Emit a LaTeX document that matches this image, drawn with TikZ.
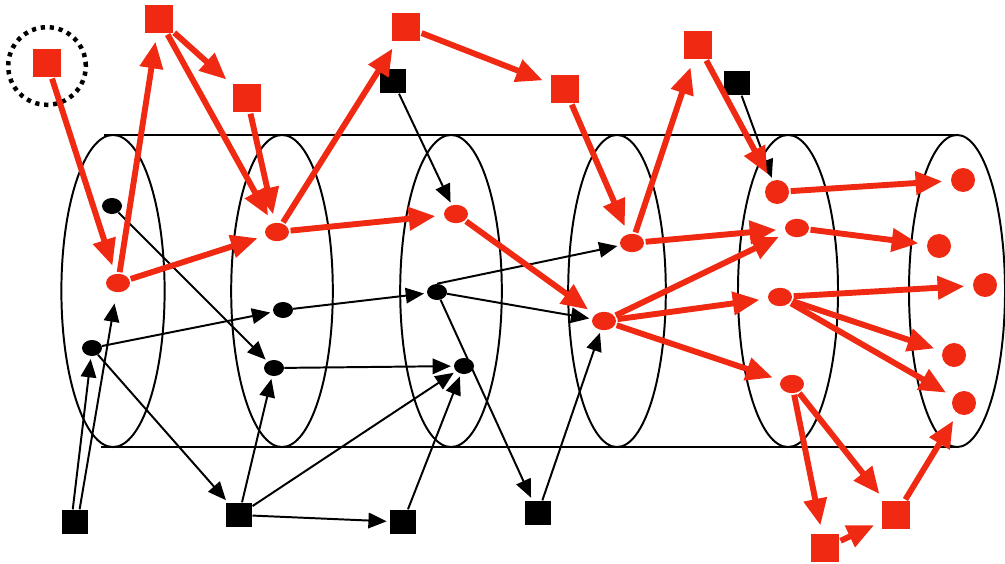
\documentclass[tikz,border=0pt]{standalone}
\usepackage{tikz}
\usetikzlibrary{arrows.meta,shapes}
\definecolor{redc}{RGB}{240,42,18}

\begin{document}
\begin{tikzpicture}[x=0.025cm,y=-0.025cm,
  tube/.style={line width=1.4pt},
  bdot/.style={fill=black,ellipse,minimum width=0.5cm,minimum height=0.4cm,inner sep=0},
  rdot/.style={fill=redc,ellipse,minimum width=0.6cm,minimum height=0.46cm,inner sep=0},
  rball/.style={fill=redc,circle,minimum size=0.6cm,inner sep=0},
  bsq/.style={fill=black,minimum width=0.66cm,minimum height=0.62cm,inner sep=0},
  rsq/.style={fill=redc,minimum size=0.7cm,inner sep=0},
  blk/.style={-{Triangle[length=13pt,width=11pt]},line width=1.4pt,shorten >=2pt},
  rarr/.style={-{Triangle[length=19pt,width=16pt]},draw=redc,line width=4.2pt,shorten >=6pt,shorten <=1pt}]
\useasboundingbox (0,0) rectangle (1005,564);

% the tube
\draw[tube] (104,135) -- (958,135);
\draw[tube] (101,447) -- (958,447);
\draw[tube] (113,291) ellipse [x radius=1.29cm, y radius=3.9cm];
\draw[tube] (282,291) ellipse [x radius=1.27cm, y radius=3.9cm];
\draw[tube] (451,291) ellipse [x radius=1.27cm, y radius=3.9cm];
\draw[tube] (617,291) ellipse [x radius=1.22cm, y radius=3.9cm];
\draw[tube] (788,291) ellipse [x radius=1.25cm, y radius=3.9cm];
\draw[tube] (957,291) ellipse [x radius=1.2cm, y radius=3.9cm];

% dots inside the tube
\node[rdot] (1a) at (118,283) {};
\node[bdot] (1b) at (112,206) {};
\node[bdot] (1c) at (92,348) {};
\node[rdot] (2a) at (277,232) {};
\node[bdot] (2b) at (283,310) {};
\node[bdot] (2c) at (274,368) {};
\node[rdot] (3a) at (456,214) {};
\node[bdot] (3b) at (437,292) {};
\node[bdot] (3c) at (464,366) {};
\node[rdot] (4a) at (632,243) {};
\node[rdot] (4b) at (604,321) {};
\node[rball] (5a) at (777,192) {};
\node[rdot] (5b) at (797,228) {};
\node[rdot] (5c) at (780,297) {};
\node[rdot] (5d) at (792,384) {};
\node[rball] (6a) at (963,180) {};
\node[rball] (6b) at (939,246) {};
\node[rball] (6c) at (985,285) {};
\node[rball] (6d) at (954,355) {};
\node[rball] (6e) at (964,403) {};

% squares outside
\node[rsq] (t0) at (47,63) {};
\node[rsq] (t1) at (159,19) {};
\node[rsq] (t2) at (247,98) {};
\node[rsq] (t3) at (406,27) {};
\node[rsq] (t4) at (565,89) {};
\node[rsq] (t5) at (698,45) {};
\node[rsq] (u1) at (825,548) {};
\node[rsq] (u2) at (896,515) {};
\node[bsq] (k1) at (393,81) {};
\node[bsq] (k2) at (737,83) {};
\node[bsq] (q1) at (75,522) {};
\node[bsq] (q2) at (239,515) {};
\node[bsq] (q3) at (403,522) {};
\node[bsq] (q4) at (538,513) {};
\draw[line width=3.2pt,dash pattern=on 3pt off 3.4pt] (t0) ++(0,3) circle [radius=0.97cm];

% black arrows
\draw[blk] (1b) -- (2c);
\draw[blk] (1c) -- (2b);
\draw[blk] (1c) -- (q2);
\draw[blk] (q1.100) -- (1c);
\draw[blk,shorten >=8pt] (q1.70) -- (1a);
\draw[blk] (2b) -- (3b);
\draw[blk] (2c) -- (3c);
\draw[blk] (q2) -- (2c);
\draw[blk] (q2) -- (3c);
\draw[blk] (q2) -- (q3);
\draw[blk] (q3) -- (3c);
\draw[blk] (3b.north) -- (4a);
\draw[blk] (3b) -- (4b);
\draw[blk] (3b) -- (q4);
\draw[blk] (q4) -- (4b);
\draw[blk] (k1) -- (3a);
\draw[blk] (k2) -- (5a);

% red arrows
\draw[rarr] (t0) -- (1a);
\draw[rarr] (1a) -- (t1);
\draw[rarr] (t1) -- (t2);
\draw[rarr] (t1) -- (2a);
\draw[rarr] (t2) -- (2a);
\draw[rarr] (1a) -- (2a);
\draw[rarr] (2a) -- (t3);
\draw[rarr] (t3) -- (t4);
\draw[rarr] (t4) -- (4a);
\draw[rarr] (2a) -- (3a);
\draw[rarr] (3a) -- (4b);
\draw[rarr] (4a) -- (t5);
\draw[rarr] (t5) -- (5a);
\draw[rarr] (4a) -- (5b);
\draw[rarr] (4b) -- (5b);
\draw[rarr] (4b) -- (5c);
\draw[rarr] (4b) -- (5d);
\draw[rarr] (5a) -- (6a);
\draw[rarr] (5b) -- (6b);
\draw[rarr] (5c) -- (6c);
\draw[rarr] (5c) -- (6d);
\draw[rarr] (5c) -- (6e);
\draw[rarr] (5d) -- (u1);
\draw[rarr] (5d) -- (u2);
\draw[rarr] (u1) -- (u2);
\draw[rarr] (u2) -- (6e);
\end{tikzpicture}
\end{document}
